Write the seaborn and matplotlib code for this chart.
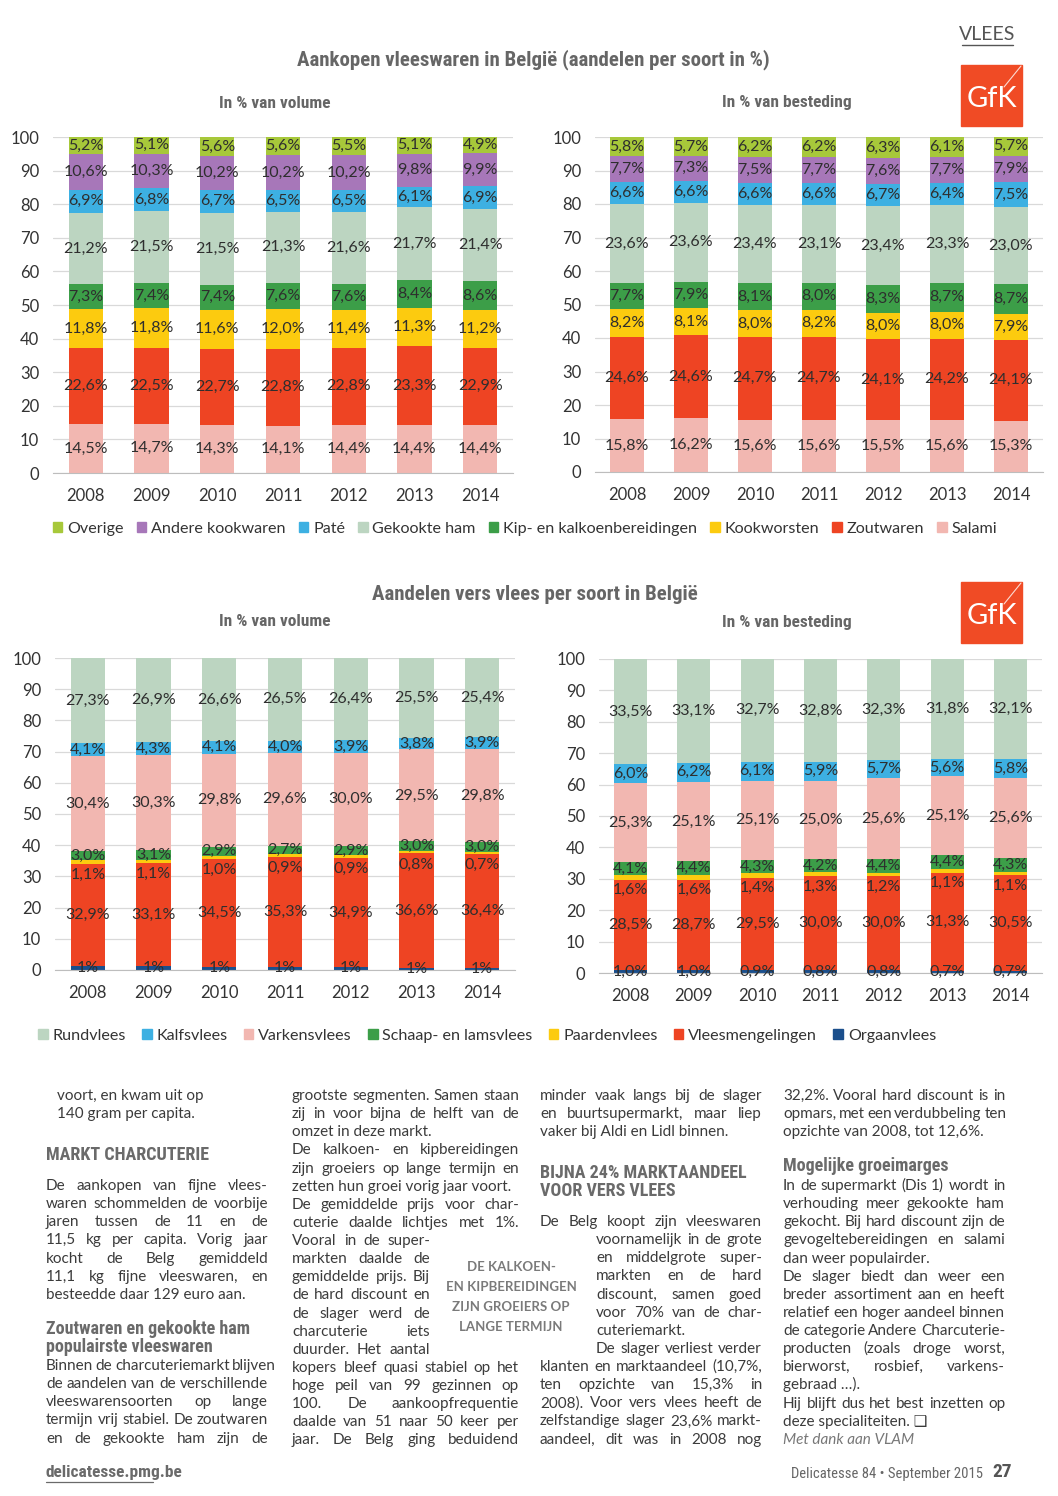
import numpy as np
import pandas as pd
import matplotlib
matplotlib.use('Agg')
import matplotlib.pyplot as plt
import matplotlib.patches as mpatches
from matplotlib.lines import Line2D
from matplotlib import font_manager
import seaborn as sns

# ---------------- data ----------------
years = ['2008', '2009', '2010', '2011', '2012', '2013', '2014']

# Aankopen vleeswaren (bottom -> top of the stack)
cold_names = ['Salami', 'Zoutwaren', 'Kookworsten', 'Kip- en kalkoenbereidingen',
              'Gekookte ham', 'Paté', 'Andere kookwaren', 'Overige']
cold_colors = ['#f2b7b1', '#ee4423', '#fccb0f', '#3c9e48',
               '#bcd5c1', '#3db0e2', '#a777b9', '#a7c83a']

salami_vol = [14.5, 14.7, 14.3, 14.1, 14.4, 14.4, 14.4]
zout_vol = [22.6, 22.5, 22.7, 22.8, 22.8, 23.3, 22.9]
kookw_vol = [11.8, 11.8, 11.6, 12.0, 11.4, 11.3, 11.2]
kip_vol = [7.3, 7.4, 7.4, 7.6, 7.6, 8.4, 8.6]
ham_vol = [21.2, 21.5, 21.5, 21.3, 21.6, 21.7, 21.4]
pate_vol = [6.9, 6.8, 6.7, 6.5, 6.5, 6.1, 6.9]
andere_vol = [10.6, 10.3, 10.2, 10.2, 10.2, 9.8, 9.9]
overige_vol = [5.2, 5.1, 5.6, 5.6, 5.5, 5.1, 4.9]

salami_bst = [15.8, 16.2, 15.6, 15.6, 15.5, 15.6, 15.3]
zout_bst = [24.6, 24.6, 24.7, 24.7, 24.1, 24.2, 24.1]
kookw_bst = [8.2, 8.1, 8.0, 8.2, 8.0, 8.0, 7.9]
kip_bst = [7.7, 7.9, 8.1, 8.0, 8.3, 8.7, 8.7]
ham_bst = [23.6, 23.6, 23.4, 23.1, 23.4, 23.3, 23.0]
pate_bst = [6.6, 6.6, 6.6, 6.6, 6.7, 6.4, 7.5]
andere_bst = [7.7, 7.3, 7.5, 7.7, 7.6, 7.7, 7.9]
overige_bst = [5.8, 5.7, 6.2, 6.2, 6.3, 6.1, 5.7]

# Aandelen vers vlees (bottom -> top of the stack)
fresh_names = ['Orgaanvlees', 'Vleesmengelingen', 'Paardenvlees', 'Schaap- en lamsvlees',
               'Varkensvlees', 'Kalfsvlees', 'Rundvlees']
fresh_colors = ['#1b4f8c', '#ee4423', '#fccb0f', '#3c9e48',
                '#f2b7b1', '#3db0e2', '#bcd5c1']

orgaan_vol = [1.2, 1.2, 1.1, 1.0, 1.0, 0.8, 0.8]
mengel_vol = [32.9, 33.1, 34.5, 35.3, 34.9, 36.6, 36.4]
paard_vol = [1.1, 1.1, 1.0, 0.9, 0.9, 0.8, 0.7]
schaap_vol = [3.0, 3.1, 2.9, 2.7, 2.9, 3.0, 3.0]
varken_vol = [30.4, 30.3, 29.8, 29.6, 30.0, 29.5, 29.8]
kalf_vol = [4.1, 4.3, 4.1, 4.0, 3.9, 3.8, 3.9]
rund_vol = [27.3, 26.9, 26.6, 26.5, 26.4, 25.5, 25.4]

orgaan_bst = [1.0, 1.0, 0.9, 0.8, 0.8, 0.7, 0.7]
mengel_bst = [28.5, 28.7, 29.5, 30.0, 30.0, 31.3, 30.5]
paard_bst = [1.6, 1.6, 1.4, 1.3, 1.2, 1.1, 1.1]
schaap_bst = [4.1, 4.4, 4.3, 4.2, 4.4, 4.4, 4.3]
varken_bst = [25.3, 25.1, 25.1, 25.0, 25.6, 25.1, 25.6]
kalf_bst = [6.0, 6.2, 6.1, 5.9, 5.7, 5.6, 5.8]
rund_bst = [33.5, 33.1, 32.7, 32.8, 32.3, 31.8, 32.1]

# ---------------- style ----------------
sns.set_style('white')
names_installed = {f.name for f in font_manager.fontManager.ttflist}
BODY = 'Lato' if 'Lato' in names_installed else 'DejaVu Sans'
COND = BODY
for cand in ['Liberation Sans Narrow', 'Roboto Condensed', 'Open Sans Condensed']:
    if cand in names_installed:
        COND = cand
        break
plt.rcParams['font.family'] = [BODY, 'DejaVu Sans']

W, H = 1058, 1496
fig = plt.figure(figsize=(W / 100, H / 100), dpi=100)
renderer = fig.canvas.get_renderer()

TXT = '#3b3b3b'
GRAY = '#666666'


def px(x, y):
    return x / W, 1 - y / H


def ax_box(x0, x1, ytop, ybot):
    return [x0 / W, 1 - ybot / H, (x1 - x0) / W, (ybot - ytop) / H]


def stacked(ax, layers, colors, decimals, shift):
    df = pd.DataFrame(np.array(layers).T, index=years)
    tops = df.cumsum(axis=1)
    # seaborn bars drawn from the tallest cumulative stack down
    for k in reversed(range(df.shape[1])):
        sns.barplot(x=years, y=tops[k].values, color=colors[k], saturation=1,
                    width=0.52, linewidth=0, errorbar=None, ax=ax, zorder=2)
    for k in range(df.shape[1]):
        for i, yr in enumerate(years):
            v = df.loc[yr, k]
            mid = tops.loc[yr, k] - v / 2
            lab = f'{v:.{decimals[k]}f}%'.replace('.', ',')
            ax.annotate(lab, (i, mid), xytext=(0, shift[k]), textcoords='offset points',
                        ha='center', va='center', fontsize=11.5, color='#2e2e2e', zorder=5)
    ax.set_xlim(-0.5, 6.5)
    ax.set_ylim(0, 100)
    ax.set_yticks(range(0, 101, 10))
    ax.set_xticks(np.arange(-0.5, 7, 1), minor=True)
    ax.yaxis.grid(True, color='#d9d9d9', lw=0.9, zorder=0)
    ax.set_axisbelow(True)
    for s in ['top', 'left', 'right']:
        ax.spines[s].set_visible(False)
    ax.spines['bottom'].set_color('#bdbdbd')
    ax.tick_params(axis='x', which='major', length=0, labelsize=12, labelcolor='#333333', pad=11)
    ax.tick_params(axis='x', which='minor', length=7, color='#bdbdbd', direction='out')
    ax.tick_params(axis='y', length=7, color='#d9d9d9', labelsize=12, labelcolor='#333333', pad=3)
    ax.set_xlabel('')
    ax.set_ylabel('')


# ---------------- charts ----------------
ax1 = fig.add_axes(ax_box(53, 513, 137, 473))
stacked(ax1, [salami_vol, zout_vol, kookw_vol, kip_vol, ham_vol, pate_vol, andere_vol, overige_vol],
        cold_colors, [1] * 8, [0] * 8)
ax2 = fig.add_axes(ax_box(595, 1043, 137, 472))
stacked(ax2, [salami_bst, zout_bst, kookw_bst, kip_bst, ham_bst, pate_bst, andere_bst, overige_bst],
        cold_colors, [1] * 8, [0] * 8)
ax3 = fig.add_axes(ax_box(55, 515, 658, 970))
stacked(ax3, [orgaan_vol, mengel_vol, paard_vol, schaap_vol, varken_vol, kalf_vol, rund_vol],
        fresh_colors, [0, 1, 1, 1, 1, 1, 1], [0, 0, -9, 0, 0, 0, 0])
ax4 = fig.add_axes(ax_box(599, 1042, 659, 973))
stacked(ax4, [orgaan_bst, mengel_bst, paard_bst, schaap_bst, varken_bst, kalf_bst, rund_bst],
        fresh_colors, [1] * 7, [0, 0, -9, 0, 0, 0, 0])

# legends (listed top of stack first)
h1 = [mpatches.Patch(color=c) for c in cold_colors[::-1]]
fig.legend(h1, cold_names[::-1], loc='center', bbox_to_anchor=px(525, 529), ncol=8,
           frameon=False, fontsize=11.6, handlelength=0.6, handleheight=0.6,
           handletextpad=0.3, columnspacing=0.8, labelcolor='#333333')
h2 = [mpatches.Patch(color=c) for c in fresh_colors[::-1]]
fig.legend(h2, fresh_names[::-1], loc='center', bbox_to_anchor=px(487, 1036), ncol=7,
           frameon=False, fontsize=11.6, handlelength=0.6, handleheight=0.6,
           handletextpad=0.3, columnspacing=1.0, labelcolor='#333333')

# titles
fig.text(*px(533, 60), 'Aankopen vleeswaren in België (aandelen per soort in %)', family=COND,
         fontsize=15, fontweight='bold', color=GRAY, ha='center', va='center')
fig.text(*px(535, 595), 'Aandelen vers vlees per soort in België', family=COND,
         fontsize=15, fontweight='bold', color=GRAY, ha='center', va='center')
for yy in (103, 622):
    fig.text(*px(275, yy), 'In % van volume', family=COND, fontsize=12.5, fontweight='bold',
             color=GRAY, ha='center', va='center')
    fig.text(*px(787, yy), 'In % van besteding', family=COND, fontsize=12.5, fontweight='bold',
             color=GRAY, ha='center', va='center')

fig.text(*px(987, 35), 'VLEES', fontsize=14, color='#555555', ha='center', va='center')
fig.add_artist(Line2D([962 / W, 1013 / W], [1 - 45 / H] * 2, color='#555555', lw=1))

# GfK logos
for ytop in (65, 582):
    fig.add_artist(mpatches.Rectangle(px(961, ytop + 61), 61 / W, 61 / H, color='#f04b25',
                                      transform=fig.transFigure, zorder=3))
    fig.add_artist(Line2D([1021 / W, 1004 / W], [1 - (ytop + 1) / H, 1 - (ytop + 22) / H],
                          color='white', lw=0.8, alpha=0.8, zorder=4))
    fig.text(*px(991.5, ytop + 34), 'GfK', color='white', fontsize=21, fontweight='normal',
             ha='center', va='center', zorder=5)

# ---------------- article text ----------------
FS = 11
STEP = 18.13


def put_line(text, x0, x1, y, justify, **kw):
    base = px(x0, y + 5)
    if not justify or ' ' not in text:
        fig.text(*base, text, ha='left', va='baseline', **kw)
        return
    words = text.split()
    objs = [fig.text(*base, w, ha='left', va='baseline', **kw) for w in words]
    widths = [o.get_window_extent(renderer).width for o in objs]
    gap = max((x1 - x0 - sum(widths)) / (len(words) - 1), 2.5)
    x = x0
    for o, w in zip(objs, widths):
        o.set_x(x / W)
        x += w + gap


def para(lines, x0, x1, y0, **kw):
    style = dict(fontsize=FS, color=TXT)
    style.update(kw)
    for n, (t, j) in enumerate(lines):
        put_line(t, x0, x1, y0 + n * STEP, j, **style)


def heading(lines, x0, y0, size=13):
    for n, t in enumerate(lines):
        fig.text(*px(x0, y0 + n * STEP + 6), t, family=COND, fontsize=size, fontweight='bold',
                 color='#6a6a6a', ha='left', va='baseline')


J, L = True, False

# column 1
para([('voort, en kwam uit op', L), ('140 gram per capita.', L)], 57, 268, 1095)
heading(['MARKT CHARCUTERIE'], 46, 1154)
para([('De aankopen van fijne vlees-', J), ('waren schommelden de voorbije', J),
      ('jaren tussen de 11 en de', J), ('11,5 kg per capita. Vorig jaar', J),
      ('kocht de Belg gemiddeld', J), ('11,1 kg fijne vleeswaren, en', J),
      ('besteedde daar 129 euro aan.', L)], 46, 268, 1185)
heading(['Zoutwaren en gekookte ham', 'populairste vleeswaren'], 46, 1328)
para([('Binnen de charcuteriemarkt blijven', J), ('de aandelen van de verschillende', J),
      ('vleeswarensoorten op lange', J), ('termijn vrij stabiel. De zoutwaren', J),
      ('en de gekookte ham zijn de', J)], 46, 268, 1365)

# column 2
para([('grootste segmenten. Samen staan', J), ('zij in voor bijna de helft van de', J),
      ('omzet in deze markt.', L), ('De kalkoen- en kipbereidingen', J),
      ('zijn groeiers op lange termijn en', J), ('zetten hun groei vorig jaar voort.', L),
      ('De gemiddelde prijs voor char-', J), ('cuterie daalde lichtjes met 1%.', J)],
     292, 519, 1095)
para([('Vooral in de super-', J), ('markten daalde de', J), ('gemiddelde prijs. Bij', J),
      ('de hard discount en', J), ('de slager werd de', J), ('charcuterie iets', J),
      ('duurder. Het aantal', J)], 292, 430, 1095 + 8 * STEP)
para([('kopers bleef quasi stabiel op het', J), ('hoge peil van 99 gezinnen op', J),
      ('100. De aankoopfrequentie', J), ('daalde van 51 naar 50 keer per', J),
      ('jaar. De Belg ging beduidend', J)], 292, 519, 1095 + 15 * STEP)

# pull quote
for n, t in enumerate(['DE KALKOEN-', 'EN KIPBEREIDINGEN', 'ZIJN GROEIERS OP', 'LANGE TERMIJN']):
    fig.text(*px(511, 1267 + n * 20), t, fontsize=9.5, fontweight='bold', color='#7a7a7a',
             ha='center', va='center')

# column 3
para([('minder vaak langs bij de slager', J), ('en buurtsupermarkt, maar liep', J),
      ('vaker bij Aldi en Lidl binnen.', L)], 540, 762, 1095)
heading(['BIJNA 24% MARKTAANDEEL', 'VOOR VERS VLEES'], 540, 1172)
para([('De Belg koopt zijn vleeswaren', J)], 540, 762, 1221)
para([('voornamelijk in de grote', J), ('en middelgrote super-', J), ('markten en de hard', J),
      ('discount, samen goed', J), ('voor 70% van de char-', J), ('cuteriemarkt.', L),
      ('De slager verliest verder', J)], 596, 762, 1221 + STEP)
para([('klanten en marktaandeel (10,7%,', J), ('ten opzichte van 15,3% in', J),
      ('2008). Voor vers vlees heeft de', J), ('zelfstandige slager 23,6% markt-', J),
      ('aandeel, dit was in 2008 nog', J)], 540, 762, 1221 + 8 * STEP)

# column 4
para([('32,2%. Vooral hard discount is in', J), ('opmars, met een verdubbeling ten', J),
      ('opzichte van 2008, tot 12,6%.', L)], 783, 1005, 1095)
heading(['Mogelijke groeimarges'], 783, 1165)
para([('In de supermarkt (Dis 1) wordt in', J), ('verhouding meer gekookte ham', J),
      ('gekocht. Bij hard discount zijn de', J), ('gevogeltebereidingen en salami', J),
      ('dan weer populairder.', L), ('De slager biedt dan weer een', J),
      ('breder assortiment aan en heeft', J), ('relatief een hoger aandeel binnen', J),
      ('de categorie Andere Charcuterie-', J), ('producten (zoals droge worst,', J),
      ('bierworst, rosbief, varkens-', J), ('gebraad …).', L),
      ('Hij blijft dus het best inzetten op', J), ('deze specialiteiten. \u2751', L)],
     783, 1005, 1185, family=[BODY, 'DejaVu Sans'])
para([('Met dank aan VLAM', L)], 783, 1005, 1185 + 14 * STEP, style='italic', color='#777777')

# footer
fig.text(*px(46, 1473), 'delicatesse.pmg.be', family=COND, fontsize=12.5, fontweight='bold',
         color='#6a6a6a', ha='left', va='center')
fig.add_artist(Line2D([46 / W, 153 / W], [1 - 1482 / H] * 2, color='#6a6a6a', lw=0.9))
fig.text(*px(983, 1474), 'Delicatesse 84 \u2022 September 2015', family=COND, fontsize=10.5,
         color='#666666', ha='right', va='center')
fig.text(*px(1012, 1472), '27', family=COND, fontsize=14, fontweight='bold',
         color='#555555', ha='right', va='center')

fig.savefig('out.png', dpi=100)
